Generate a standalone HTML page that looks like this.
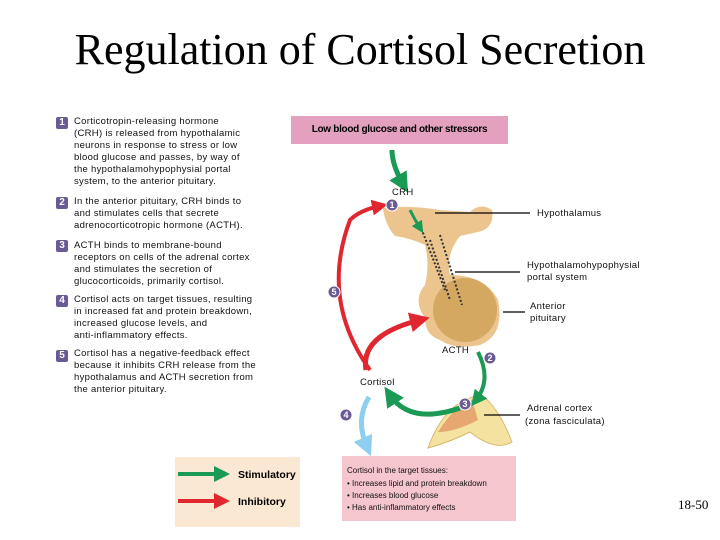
<!DOCTYPE html>
<html><head><style>
body{margin:0;width:720px;height:540px;background:#fff;position:relative;overflow:hidden;font-family:"Liberation Sans",sans-serif}
.t{position:absolute;font-size:9.5px;line-height:12px;color:#111;letter-spacing:0.3px}
.n{position:absolute;width:12px;height:12px;border-radius:2px;background:#6b5b95;color:#fff;font-size:10px;font-weight:bold;text-align:center;line-height:12px}
</style></head><body>
<div style="position:absolute;left:0;width:720px;top:24px;text-align:center;font-family:'Liberation Serif',serif;font-size:44px;color:#000">Regulation of Cortisol Secretion</div>
<div class="n" style="left:56px;top:117px">1</div>
<div class="t" style="left:74px;top:116px">Corticotropin-releasing hormone<br>(CRH) is released from hypothalamic<br>neurons in response to stress or low<br>blood glucose and passes, by way of<br>the hypothalamohypophysial portal<br>system, to the anterior pituitary.</div>
<div class="n" style="left:56px;top:197px">2</div>
<div class="t" style="left:74px;top:196px">In the anterior pituitary, CRH binds to<br>and stimulates cells that secrete<br>adrenocorticotropic hormone (ACTH).</div>
<div class="n" style="left:56px;top:240px">3</div>
<div class="t" style="left:74px;top:240px">ACTH binds to membrane-bound<br>receptors on cells of the adrenal cortex<br>and stimulates the secretion of<br>glucocorticoids, primarily cortisol.</div>
<div class="n" style="left:56px;top:295px">4</div>
<div class="t" style="left:74px;top:294px">Cortisol acts on target tissues, resulting<br>in increased fat and protein breakdown,<br>increased glucose levels, and<br>anti-inflammatory effects.</div>
<div class="n" style="left:56px;top:350px">5</div>
<div class="t" style="left:74px;top:348px">Cortisol has a negative-feedback effect<br>because it inhibits CRH release from the<br>hypothalamus and ACTH secretion from<br>the anterior pituitary.</div>

<div style="position:absolute;left:291px;top:116px;width:217px;height:28px;background:#e3a0bf;font-size:10px;font-weight:bold;line-height:28px;text-align:center;letter-spacing:-0.3px">Low blood glucose and other stressors</div>

<svg style="position:absolute;left:0;top:0" width="720" height="540">
<defs>
<marker id="g" markerWidth="4" markerHeight="4" refX="2" refY="2" orient="auto"><path d="M0,0L4,2L0,4z" fill="#1a9a55"/></marker>
<marker id="r" markerWidth="4" markerHeight="4" refX="2" refY="2" orient="auto"><path d="M0,0L4,2L0,4z" fill="#e0262e"/></marker>
<marker id="b" markerWidth="4" markerHeight="4" refX="2" refY="2" orient="auto"><path d="M0,0L4,2L0,4z" fill="#8ecff0"/></marker>
</defs>
<path d="M383,208 Q410,205 440,210 L470,212 Q480,202 492,210 Q495,228 478,232 L460,236 Q445,255 450,275 Q485,275 498,300 Q505,335 480,345 Q455,350 440,340 Q425,335 425,318 Q412,300 425,285 Q430,265 425,245 Q410,238 395,236 Q385,225 383,208z" fill="#ecc48e"/>
<ellipse cx="465" cy="310" rx="32" ry="32" fill="#d4a860"/>
<path d="M430,240 L450,300 M440,235 L462,305 M420,225 L445,290" stroke="#333" stroke-dasharray="2,2" stroke-width="2" fill="none"/>
<path d="M428,448 Q445,400 482,395 Q500,410 512,442 Q495,452 470,432 Q450,442 428,448z" fill="#f4e3a0" stroke="#d8b870"/>
<path d="M438,432 Q455,405 472,400 L478,420 Q455,432 438,432z" fill="#e6a870"/>
<path d="M392,150 Q392,165 403,184" stroke="#1a9a55" stroke-width="5" fill="none" marker-end="url(#g)"/>
<path d="M410,210 Q415,220 420,228" stroke="#1a9a55" stroke-width="3" fill="none" marker-end="url(#g)"/>
<path d="M370,370 Q320,300 350,220 Q360,210 380,206" stroke="#e0262e" stroke-width="4" fill="none" marker-end="url(#r)"/>
<path d="M366,370 Q360,335 420,320" stroke="#e0262e" stroke-width="5" fill="none" marker-end="url(#r)"/>
<path d="M478,352 Q492,380 476,400" stroke="#1a9a55" stroke-width="4" fill="none" marker-end="url(#g)"/>
<path d="M460,408 Q410,425 390,395" stroke="#1a9a55" stroke-width="5" fill="none" marker-end="url(#g)"/>
<path d="M369,397 Q355,420 367,447" stroke="#8ecff0" stroke-width="5" fill="none" marker-end="url(#b)"/>
<g stroke="#000" stroke-width="1.2"><line x1="435" y1="213" x2="530" y2="213"/><line x1="455" y1="272" x2="520" y2="272"/><line x1="503" y1="312" x2="525" y2="312"/><line x1="484" y1="415" x2="520" y2="415"/></g>
<g fill="#6b5b95" stroke="#fff" stroke-width="1"><circle cx="392" cy="205" r="6"/><circle cx="334" cy="292" r="6"/><circle cx="490" cy="358" r="6"/><circle cx="465" cy="404" r="6"/><circle cx="346" cy="415" r="6"/></g>
<g fill="#fff" font-size="9" font-weight="bold" text-anchor="middle" font-family="Liberation Sans"><text x="392" y="208">1</text><text x="334" y="295">5</text><text x="490" y="361">2</text><text x="465" y="407">3</text><text x="346" y="418">4</text></g>
<g font-size="9.5" font-family="Liberation Sans" fill="#111" letter-spacing="0.3"><text x="392" y="195">CRH</text><text x="442" y="353">ACTH</text><text x="360" y="385">Cortisol</text>
<text x="537" y="216">Hypothalamus</text><text x="527" y="268">Hypothalamohypophysial</text><text x="527" y="280">portal system</text>
<text x="530" y="309">Anterior</text><text x="530" y="321">pituitary</text><text x="527" y="411">Adrenal cortex</text><text x="525" y="424">(zona fasciculata)</text></g>
<rect x="175" y="457" width="125" height="70" fill="#fbe8d3"/>
<path d="M178,474 L222,474" stroke="#1a9a55" stroke-width="4" marker-end="url(#g)"/>
<path d="M178,501 L222,501" stroke="#e0262e" stroke-width="4" marker-end="url(#r)"/>
<text x="238" y="478" font-size="10.5" font-weight="bold" font-family="Liberation Sans">Stimulatory</text>
<text x="238" y="505" font-size="10.5" font-weight="bold" font-family="Liberation Sans">Inhibitory</text>
<rect x="342" y="456" width="174" height="65" fill="#f6c6cf"/>
<g font-size="8" font-family="Liberation Sans" fill="#111"><text x="347" y="473">Cortisol in the target tissues:</text><text x="347" y="486">• Increases lipid and protein breakdown</text><text x="347" y="498">• Increases blood glucose</text><text x="347" y="510">• Has anti-inflammatory effects</text></g>
<text x="678" y="509" font-size="13" font-family="Liberation Serif">18-50</text>
</svg>
</body></html>
